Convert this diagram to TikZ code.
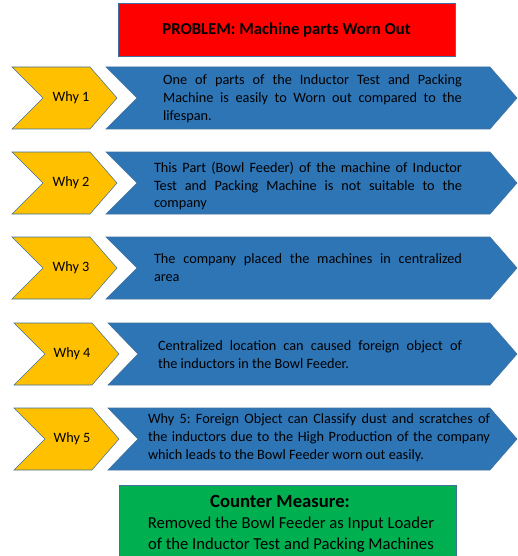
\documentclass[tikz,border=0pt]{standalone}
\usepackage{fontspec}
\setmainfont{Carlito}
\usepackage{xcolor}
\usepackage{tikz}
\definecolor{probred}{HTML}{FF0000}
\definecolor{whyyellow}{HTML}{FFC000}
\definecolor{ansblue}{HTML}{2E75B6}
\definecolor{fixgreen}{HTML}{00B050}
\definecolor{edgeblue}{HTML}{41719C}
\frenchspacing

\begin{document}
\begin{tikzpicture}[x=0.75pt,y=-0.75pt,
  why/.style={fill=whyyellow,draw=edgeblue,line width=0.4pt},
  ans/.style={fill=ansblue,draw=edgeblue,line width=0.4pt},
  box/.style={rectangle,draw=edgeblue,line width=0.4pt,minimum width=252.75pt,inner sep=0pt},
  lbl/.style={font=\fontsize{10.7}{13.4}\selectfont,inner sep=0pt},
  txt/.style={font=\fontsize{10.7}{13.4}\selectfont,align=justify,inner sep=0pt}]
\useasboundingbox (0,0) rectangle (517,556);
% problem
\node[box,fill=probred,minimum height=39.75pt,font=\fontsize{12.5}{15}\selectfont\bfseries] (problem) at (286.5,30) {PROBLEM: Machine parts Worn Out};
% chevrons
\path[why] (12,67) -- (90,67) -- (117,98) -- (90,129) -- (12,129) -- (43,98) -- cycle;
\path[ans] (106,67) -- (490,67) -- (517,98) -- (490,129) -- (106,129) -- (137,98) -- cycle;
\path[why] (12,152) -- (90,152) -- (117,183) -- (90,214) -- (12,214) -- (43,183) -- cycle;
\path[ans] (106,152) -- (490,152) -- (517,183) -- (490,214) -- (106,214) -- (137,183) -- cycle;
\path[why] (12,237) -- (90,237) -- (117,268) -- (90,299) -- (12,299) -- (43,268) -- cycle;
\path[ans] (106,237) -- (490,237) -- (517,268) -- (490,299) -- (106,299) -- (137,268) -- cycle;
\path[why] (14,323) -- (92,323) -- (119,354) -- (92,385) -- (14,385) -- (45,354) -- cycle;
\path[ans] (108,323) -- (490,323) -- (517,354) -- (490,385) -- (108,385) -- (138,354) -- cycle;
\path[why] (14,408) -- (92,408) -- (119,439) -- (92,470) -- (14,470) -- (45,439) -- cycle;
\path[ans] (108,408) -- (490,408) -- (517,439) -- (490,470) -- (108,470) -- (138,439) -- cycle;
% why labels
\node[lbl] (why1) at (71,98) {Why 1};
\node[lbl] (why2) at (71,183) {Why 2};
\node[lbl] (why3) at (71,268) {Why 3};
\node[lbl] (why4) at (72,354) {Why 4};
\node[lbl] (why5) at (72,439) {Why 5};
% answers
\node[txt,text width=224pt] (ans1) at (312.5,99) {One of parts of the Inductor Test and Packing\linebreak Machine is easily to Worn out compared to the\linebreak lifespan.};
\node[txt,text width=231pt] (ans2) at (308,186) {This Part (Bowl Feeder) of the machine of Inductor\linebreak Test and Packing Machine is not suitable to the\linebreak company};
\node[txt,text width=231pt] (ans3) at (308,268) {The company placed the machines in centralized\linebreak area};
\node[txt,text width=228pt] (ans4) at (310,355) {Centralized location can caused foreign object of\linebreak the inductors in the Bowl Feeder.};
\node[txt,text width=256.5pt] (ans5) at (319,438) {Why 5: Foreign Object can Classify dust and scratches of\linebreak the inductors due to the High Production of the company\linebreak which leads to the Bowl Feeder worn out easily.};
% counter measure
\node[box,fill=fixgreen,minimum height=55pt,anchor=north] (fixbox) at (287.5,485) {};
\node[align=center,inner sep=0pt,font=\fontsize{12.5}{15.75}\selectfont] (fix) at (291,524) {\hspace*{-16.5pt}{\fontsize{14}{15.75}\selectfont\bfseries Counter Measure:}\\Removed the Bowl Feeder as Input Loader\\of the Inductor Test and Packing Machines};
\end{tikzpicture}
\end{document}
